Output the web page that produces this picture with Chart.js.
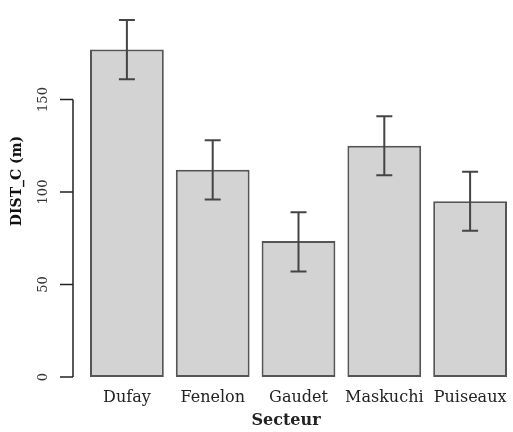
<!DOCTYPE html>
<html>
<head>
<meta charset="utf-8">
<script src="https://cdn.jsdelivr.net/npm/chart.js@4"></script>
<style>
  html, body { margin: 0; padding: 0; background: #fff; }
  #wrap { width: 513px; height: 432px; }
</style>
</head>
<body>
<div id="wrap"><canvas id="graf"></canvas></div>
<script>
// valeurs
const secteurs = ['Dufay', 'Fenelon', 'Gaudet', 'Maskuchi', 'Puiseaux'];
const moyennes = [177, 112, 73.5, 125, 95];
const erreurBas = [161, 96, 57, 109, 79];
const erreurHaut = [193, 128, 89, 141, 111];
const ticksY = [0, 50, 100, 150];

const police = '"DejaVu Serif", "Liberation Serif", serif';

// barres d'erreur + axe Y a la R
const pluginR = {
  id: 'pluginR',
  afterDatasetsDraw(chart) {
    const ctx = chart.ctx;
    const x = chart.scales.x;
    const y = chart.scales.y;

    ctx.save();
    ctx.strokeStyle = '#444';
    ctx.lineWidth = 2;
    secteurs.forEach((s, i) => {
      const px = x.getPixelForValue(i);
      const yb = y.getPixelForValue(erreurBas[i]);
      const yh = y.getPixelForValue(erreurHaut[i]);
      ctx.beginPath();
      ctx.moveTo(px, yb); ctx.lineTo(px, yh);
      ctx.moveTo(px - 8, yb); ctx.lineTo(px + 8, yb);
      ctx.moveTo(px - 8, yh); ctx.lineTo(px + 8, yh);
      ctx.stroke();
    });

    // axe Y
    const ax = 73;
    ctx.strokeStyle = '#222';
    ctx.lineWidth = 1.5;
    ctx.beginPath();
    ctx.moveTo(ax, y.getPixelForValue(ticksY[0]));
    ctx.lineTo(ax, y.getPixelForValue(ticksY[ticksY.length - 1]));
    ticksY.forEach(t => {
      const py = y.getPixelForValue(t);
      ctx.moveTo(ax, py); ctx.lineTo(ax - 13, py);
    });
    ctx.stroke();

    ctx.fillStyle = '#333';
    ctx.font = '13px ' + police;
    ctx.textAlign = 'center';
    ctx.textBaseline = 'middle';
    ticksY.forEach(t => {
      ctx.save();
      ctx.translate(44, y.getPixelForValue(t));
      ctx.rotate(-Math.PI / 2);
      ctx.fillText(String(t), 0, 0);
      ctx.restore();
    });

    // titre Y
    ctx.fillStyle = '#111';
    ctx.font = 'bold 14px ' + police;
    ctx.save();
    ctx.translate(17, 181);
    ctx.rotate(-Math.PI / 2);
    ctx.fillText('DIST_C (m)', 0, 0);
    ctx.restore();

    // etiquettes X
    ctx.fillStyle = '#222';
    ctx.font = '16px ' + police;
    secteurs.forEach((s, i) => {
      ctx.fillText(s, x.getPixelForValue(i), 398);
    });
    ctx.font = 'bold 16px ' + police;
    ctx.fillText('Secteur', 286, 421);
    ctx.restore();
  }
};

new Chart(document.getElementById('graf'), {
  type: 'bar',
  data: {
    labels: secteurs,
    datasets: [{
      data: moyennes,
      backgroundColor: '#d3d3d3',
      borderColor: '#555',
      borderWidth: 2,
      borderSkipped: false,
      barPercentage: 0.86,
      categoryPercentage: 1.0
    }]
  },
  options: {
    responsive: true,
    maintainAspectRatio: false,
    animation: false,
    layout: { padding: { left: 84, right: 0, top: 7, bottom: 55 } },
    scales: {
      x: { display: false },
      y: { display: false, min: 0, max: 200 }
    },
    plugins: {
      legend: { display: false },
      tooltip: { enabled: false }
    }
  },
  plugins: [pluginR]
});
</script>
</body>
</html>
